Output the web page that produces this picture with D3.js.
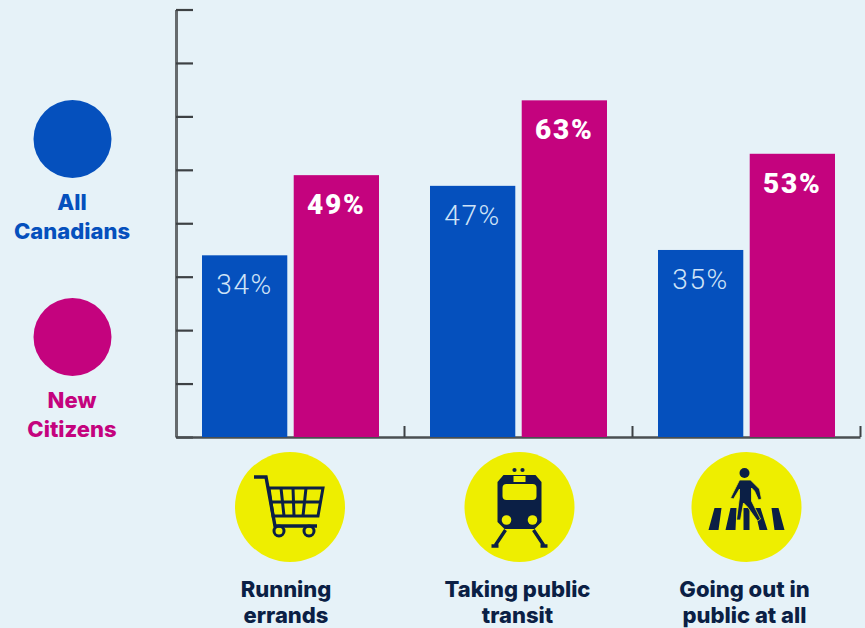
<!DOCTYPE html>
<html><head><meta charset="utf-8">
<script src="https://cdn.jsdelivr.net/npm/d3@7/dist/d3.min.js"></script>
<style>html,body{margin:0;padding:0;background:#e6f2f8;overflow:hidden}svg{display:block}</style>
</head><body><div id="chart"></div>
<script>
const categories = ["Running errands", "Taking public transit", "Going out in public at all"];
const categoryLines = [["Running","errands"],["Taking public","transit"],["Going out in","public at all"]];
const seriesNames = ["All Canadians", "New Citizens"];
const seriesLines = [["All","Canadians"],["New","Citizens"]];
const allCanadians = [34, 47, 35];
const newCitizens = [49, 63, 53];
const yTicks = [0,10,20,30,40,50,60,70,80];
const BLUE="#0550bd", MAGENTA="#c4037e", YELLOW="#eeee00", NAVY="#0b1f45", BG="#e6f2f8";
const FONT="Inter, Roboto, sans-serif";
const VALFONT="Roboto, sans-serif";

const svg=d3.select("#chart").append("svg").attr("width",865).attr("height",628);
svg.append("rect").attr("width",865).attr("height",628).attr("fill",BG);

const y=d3.scaleLinear().domain([0,80]).range([437,9.5]);
const x0=d3.scaleBand().domain(categories).range([176,860]);
const x1=d3.scaleBand().domain(seriesNames).range([26,203]).paddingInner(0.07);
const edge=d3.scaleLinear().domain([0,3]).range([176,860]);
const color=d3.scaleOrdinal(seriesNames,[BLUE,MAGENTA]);

// axes
const gy=svg.append("g").attr("transform","translate(176,0)")
  .call(d3.axisRight(y).tickValues(yTicks).tickSize(17).tickSizeOuter(0).tickFormat(""));
gy.select(".domain").attr("stroke","#666b6e").attr("stroke-width",3);
gy.selectAll(".tick line").attr("stroke","#3d4144").attr("stroke-width",2.2);
const gx=svg.append("g").attr("transform","translate(0,437)")
  .call(d3.axisTop(edge).tickValues([1,2,3]).tickSize(11).tickSizeOuter(0).tickFormat(""));
gx.select(".domain").attr("stroke","#4a4f52").attr("stroke-width",2.4);
gx.selectAll(".tick line").attr("stroke","#3d4144").attr("stroke-width",2);

// bars
const groups=svg.selectAll("g.cat").data(categories).join("g").attr("class","cat")
  .attr("transform",d=>`translate(${x0(d)},0)`);
const rows=(d,i)=>[
  {s:seriesNames[0],v:allCanadians[i],bold:false},
  {s:seriesNames[1],v:newCitizens[i],bold:true}];
groups.selectAll("rect").data(rows).join("rect")
  .attr("x",d=>x1(d.s)).attr("width",x1.bandwidth())
  .attr("y",d=>y(d.v)).attr("height",d=>y(0)-y(d.v)).attr("fill",d=>color(d.s));
groups.selectAll("text").data(rows).join("text")
  .attr("x",d=>x1(d.s)+x1.bandwidth()/2).attr("y",d=>y(d.v)+39)
  .attr("text-anchor","middle").attr("font-family",VALFONT).attr("font-size",28)
  .attr("letter-spacing",d=>d.bold?1.8:1.6)
  .attr("font-weight",d=>d.bold?900:300).attr("fill",d=>d.bold?"#fff":"#cfe3f7")
  .text(d=>d.v+"%");

// legend
const legend=svg.selectAll("g.leg").data(seriesNames).join("g").attr("class","leg")
  .attr("transform",(d,i)=>`translate(72.5,${[139,337][i]})`);
legend.append("circle").attr("r",39).attr("fill",d=>color(d));
legend.each(function(d,i){
  d3.select(this).selectAll("text").data(seriesLines[i]).join("text")
    .attr("y",(t,j)=>[71,100][j]).attr("x",-0.5).attr("text-anchor","middle")
    .attr("font-family",FONT).attr("font-weight",800).attr("font-size",22)
    .attr("fill",color(d)).text(t=>t);
});

// icons
const iconNudge=[0,1.5,0.5];
const labelNudge=[-4,-2,-2];
const icons=svg.selectAll("g.ic").data(categories).join("g").attr("class","ic")
  .attr("transform",(d,i)=>`translate(${x0(d)+x0.bandwidth()/2+iconNudge[i]},507)`);
icons.append("circle").attr("r",55).attr("fill",YELLOW);

const cart=d3.select(icons.nodes()[0]).append("g").attr("fill","none").attr("stroke",NAVY).attr("stroke-width",3);
cart.append("path").attr("d","M-36,-30H-24L-15,19H27").attr("stroke-width",3.4);
cart.append("path").attr("d","M-21,-19H33L28,9H-17Z");
cart.append("path").attr("d","M-19,-5H31M-9,-19L-6,9M3,-19L4,9M16,-19L13,9");
cart.append("circle").attr("cx",-11).attr("cy",24).attr("r",5);
cart.append("circle").attr("cx",19).attr("cy",24).attr("r",5);

const train=d3.select(icons.nodes()[1]);
train.append("path").attr("fill",NAVY)
  .attr("d","M-16,-32H16L22,-25V15L15,22H-15L-22,15V-25Z");
train.append("rect").attr("x",-17).attr("y",-23).attr("width",34).attr("height",16).attr("rx",4).attr("fill",YELLOW);
train.append("rect").attr("x",-6).attr("y",-31).attr("width",12).attr("height",6).attr("fill",YELLOW);
[[-5,-37,2.1],[3,-37,2.1]].forEach(c=>train.append("circle").attr("cx",c[0]).attr("cy",c[1]).attr("r",c[2]).attr("fill",NAVY));
[-13,13].forEach(c=>train.append("circle").attr("cx",c).attr("cy",13).attr("r",4.8).attr("fill",YELLOW));
train.append("path").attr("d","M-14,23L-24,38M-28,39H-21M14,23L24,38M28,39H21").attr("stroke",NAVY).attr("stroke-width",3.4).attr("fill","none");

const walk=d3.select(icons.nodes()[2]);
walk.append("path").attr("fill",NAVY).attr("d",
 "M-32,1H-25L-28,23H-38ZM-16,1H-10L-11,23H-21ZM-3,1H3L3,23H-3ZM8,1H14L21,23H13ZM25,1H32L38,23H28Z");
walk.append("circle").attr("cx",-2).attr("cy",-34).attr("r",5).attr("fill",NAVY);
walk.append("path").attr("fill",NAVY).attr("stroke",YELLOW).attr("stroke-width",0.8)
  .attr("d","M-7,-27H4L13,-18L15,-8L12,-7L8,-16L5,-19L5,-6L14,12L11,14L1,0L-3,-4L-6,13L-10,13L-7,-10L-7,-18L-13,-8L-16,-9Z");

// category labels
icons.each(function(d,i){
  d3.select(this).selectAll("text").data(categoryLines[i]).join("text")
    .attr("x",labelNudge[i]).attr("y",(t,j)=>[90,116][j]).attr("text-anchor","middle")
    .attr("font-family",FONT).attr("font-weight",800).attr("font-size",22)
    .attr("fill",NAVY).text(t=>t);
});
</script></body></html>
